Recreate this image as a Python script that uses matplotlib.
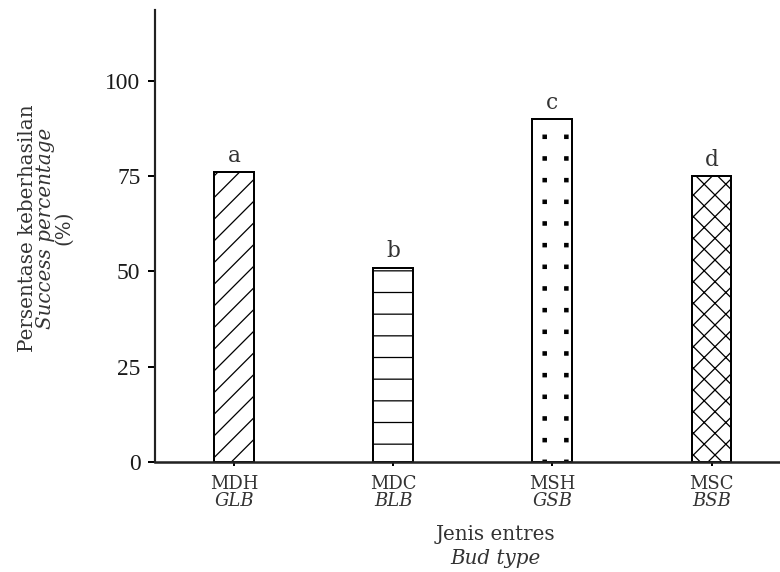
import numpy as np
import matplotlib
matplotlib.use("Agg")
import matplotlib.pyplot as plt
from matplotlib import hatch as mhatch
from matplotlib.path import Path

# data
codes = ["MDH", "MDC", "MSH", "MSC"]
codes_en = ["GLB", "BLB", "GSB", "BSB"]
success = [76, 51, 90, 75]
letters = ["a", "b", "c", "d"]
hatches = ["//", "-", ".", "xx"]
yticks = [0, 25, 50, 75, 100]


class GridDots(mhatch.HatchPatternBase):
    """Square dots on a plain (not staggered) grid, replaces the '.' hatch."""
    size = 0.15
    shift = (-0.06, 0.031)  # phase of the grid inside the hatch tile

    def __init__(self, hatch, density):
        self.num_rows = hatch.count('.') * density
        self.num_vertices = self.num_rows ** 2 * 5

    def set_vertices_and_codes(self, vertices, codes):
        step = 1.0 / self.num_rows
        half = step * self.size / 2
        sq = np.array([[-1, -1], [1, -1], [1, 1], [-1, 1], [-1, -1]]) * half
        i = 0
        for r in range(self.num_rows):
            for c in range(self.num_rows):
                centre = [(c + 0.5) * step + self.shift[0],
                          (r + 0.5) * step + self.shift[1]]
                vertices[i:i + 5] = sq + centre
                codes[i:i + 5] = [Path.MOVETO, Path.LINETO, Path.LINETO,
                                  Path.LINETO, Path.CLOSEPOLY]
                i += 5

    get_vertices_and_codes = set_vertices_and_codes


mhatch._hatch_types = [GridDots if t is mhatch.SmallFilledCircles else t
                       for t in mhatch._hatch_types]

plt.rcParams["font.family"] = "DejaVu Serif"
plt.rcParams["hatch.linewidth"] = 0.7
txt = "#333333"

fig = plt.figure(figsize=(6, 4.4), dpi=130)
ax = fig.add_axes([155 / 780, 110 / 572, 625 / 780, 452 / 572])

x = list(range(len(codes)))
for xi, v, h in zip(x, success, hatches):
    ax.bar(xi, v, width=0.25, color="white", edgecolor="black",
           hatch=h, linewidth=1.1, zorder=2)
for xi, v, l in zip(x, success, letters):
    ax.annotate(l, (xi, v), xytext=(0, 3), textcoords="offset points",
                ha="center", va="bottom", fontsize=12, color=txt)

ax.set_xlim(-0.496, 3.43)
ax.set_ylim(0, 118.6)
ax.set_yticks(yticks)
ax.set_yticklabels([str(t) for t in yticks], family="Liberation Serif",
                   fontsize=13, color="#1a1a1a")
ax.set_xticks(x)
ax.set_xticklabels(codes, fontsize=10, color=txt)
for xi, c in zip(x, codes_en):
    ax.annotate(c, (xi, 0), xycoords=("data", "axes fraction"),
                xytext=(0, -21.5), textcoords="offset points",
                ha="center", va="center", fontsize=10, style="italic",
                color=txt)

for s in ["top", "right"]:
    ax.spines[s].set_visible(False)
ax.spines["left"].set_linewidth(1.2)
ax.spines["bottom"].set_linewidth(1.4)
ax.spines["left"].set_color("#222222")
ax.spines["bottom"].set_color("#222222")
ax.tick_params(axis="y", length=4, width=1.1, pad=4)
ax.tick_params(axis="x", length=2, width=1.1, pad=5)

# axis titles
fig.text(495 / 780, 1 - 535 / 572, "Jenis entres", ha="center", va="center",
         fontsize=11, color=txt)
fig.text(495 / 780, 1 - 559 / 572, "Bud type", ha="center", va="center",
         fontsize=11, style="italic", color=txt)
fig.text(28 / 780, 1 - 228 / 572, "Persentase keberhasilan", rotation=90,
         ha="center", va="center", fontsize=11, color=txt)
fig.text(46 / 780, 1 - 228 / 572, "Success percentage", rotation=90,
         ha="center", va="center", fontsize=11, style="italic", color=txt)
fig.text(64 / 780, 1 - 228 / 572, "(%)", rotation=90,
         ha="center", va="center", fontsize=11, color=txt)

fig.savefig("out.png", dpi=130)
